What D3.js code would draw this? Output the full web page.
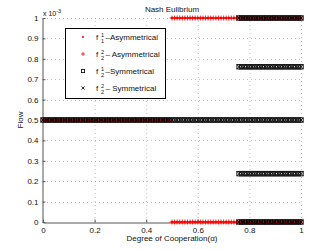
<!DOCTYPE html>
<html>
<head>
<meta charset="utf-8">
<script src="https://cdn.jsdelivr.net/npm/d3@7"></script>
<style>
  body { margin: 0; background: #fff; }
  svg { display: block; font-family: "Liberation Sans", Arial, sans-serif; }
</style>
</head>
<body>
<svg id="chart" width="332" height="250"></svg>
<script>
// alpha sampling grid used by the solver (x positions of the markers)
const alphaSteps = 100;
const alphaGrid = d3.range(alphaSteps + 1).map(i => i / alphaSteps);

// piecewise levels: [alphaFrom, alphaTo, flow (x1e-3)]
const asymF1 = [[0, 0.49, 0.5], [0.5, 1, 1], [0.5, 1, 0]];
const asymF2 = [[0, 0.49, 0.5], [0.5, 1, 0], [0.5, 1, 1]];
const symF1 = [[0, 1, 0.5], [0.76, 1, 1], [0.76, 1, 0], [0.76, 1, 0.761], [0.76, 1, 0.237]];
const symF2 = [[0, 1, 0.5], [0.76, 1, 0], [0.76, 1, 1], [0.76, 1, 0.237], [0.76, 1, 0.761]];

const xTicks = [0, 0.2, 0.4, 0.6, 0.8, 1];
const yTicks = [0, 0.1, 0.2, 0.3, 0.4, 0.5, 0.6, 0.7, 0.8, 0.9, 1];

const legendLabels = [
  { sup: "1", sub: "1", rest: "\u2013Asymmetrical", marker: "dot" },
  { sup: "2", sub: "2", rest: "\u2013 Asymmetrical", marker: "plus" },
  { sup: "1", sub: "2", rest: "\u2013Symmetrical", marker: "square" },
  { sup: "2", sub: "2", rest: "\u2013 Symmetrical", marker: "cross" }
];

const margin = { top: 18, right: 31, bottom: 28, left: 43 };
const width = 332, height = 250;

const svg = d3.select("#chart");

const x = d3.scaleLinear().domain([0, 1]).range([margin.left, width - margin.right]);
const y = d3.scaleLinear().domain([0, 1]).range([height - margin.bottom, margin.top]);

function expand(segs) {
  let pts = [];
  segs.forEach(s => {
    alphaGrid.forEach(a => {
      if (a >= s[0] - 1e-9 && a <= s[1] + 1e-9) pts.push([a, s[2]]);
    });
  });
  return pts;
}

// grid
const grid = svg.append("g").attr("stroke", "#bdbdbd").attr("stroke-width", 1)
  .attr("stroke-dasharray", "1,3");
xTicks.slice(1).forEach(t => {
  grid.append("line").attr("x1", x(t) + 0.5).attr("x2", x(t) + 0.5)
    .attr("y1", y(0)).attr("y2", y(1));
});
yTicks.slice(1).forEach(t => {
  grid.append("line").attr("x1", x(0)).attr("x2", x(1))
    .attr("y1", Math.round(y(t)) + 0.5).attr("y2", Math.round(y(t)) + 0.5);
});

// axes
const xAxis = d3.axisBottom(x).tickValues(xTicks).tickSizeInner(-3).tickSizeOuter(0)
  .tickPadding(5).tickFormat(d3.format("~g"));
const yAxis = d3.axisLeft(y).tickValues(yTicks).tickSizeInner(-3).tickSizeOuter(0)
  .tickPadding(4).tickFormat(d3.format("~g"));

const gx = svg.append("g").attr("transform", `translate(0,${y(0) + 0.5})`).call(xAxis);
const gy = svg.append("g").attr("transform", `translate(${x(0) - 0.5},0)`).call(yAxis);
[gx, gy].forEach(g => {
  g.selectAll("path,line").attr("stroke", "#555");
  g.selectAll("text").attr("font-size", 8).attr("fill", "#111")
    .attr("font-family", "Liberation Sans, Arial, sans-serif");
});

// markers
function drawMarkers(g, pts, type, color, s, sw) {
  s = s || 1;
  sw = sw || 0.8;
  pts.forEach(p => {
    const cx = x(p[0]), cy = y(p[1]);
    if (type === "dot") {
      g.append("circle").attr("cx", cx).attr("cy", cy).attr("r", 1.3 * s).attr("fill", color);
    } else if (type === "plus") {
      const r = 2.5 * s;
      g.append("path").attr("d", `M${cx - r},${cy}H${cx + r}M${cx},${cy - r}V${cy + r}`)
        .attr("stroke", color).attr("stroke-width", sw).attr("fill", "none");
    } else if (type === "square") {
      const r = 2 * s;
      g.append("rect").attr("x", cx - r).attr("y", cy - r).attr("width", 2 * r).attr("height", 2 * r)
        .attr("stroke", color).attr("stroke-width", sw).attr("fill", "none");
    } else if (type === "cross") {
      const r = 2 * s;
      g.append("path").attr("d", `M${cx - r},${cy - r}L${cx + r},${cy + r}M${cx - r},${cy + r}L${cx + r},${cy - r}`)
        .attr("stroke", color).attr("stroke-width", sw).attr("fill", "none");
    }
  });
}

const marks = svg.append("g");
drawMarkers(marks, expand(asymF1), "dot", "#ff0000");
drawMarkers(marks, expand(asymF2), "plus", "#ff0000");
const symG = marks.append("g").attr("opacity", 0.9);
drawMarkers(symG, expand(symF1), "square", "#000", 1.1, 1);
drawMarkers(symG, expand(symF2), "cross", "#000", 1.1, 1);

// title and labels
svg.append("text").attr("x", (x(0) + x(1)) / 2).attr("y", 12).attr("text-anchor", "middle")
  .attr("font-size", 8).attr("fill", "#111").text("Nash Eulibrium");

svg.append("text").attr("x", (x(0) + x(1)) / 2).attr("y", 241).attr("text-anchor", "middle")
  .attr("font-size", 8).attr("fill", "#111").text("Degree of Cooperation(\u03b1)");

svg.append("text").attr("transform", `translate(23,${(y(0) + y(1)) / 2}) rotate(-90)`)
  .attr("text-anchor", "middle").attr("font-size", 8).attr("fill", "#111").text("Flow");

const expo = svg.append("text").attr("x", 43).attr("y", 16).attr("font-size", 7).attr("fill", "#111");
expo.append("tspan").text("x 10");
expo.append("tspan").attr("dy", -3).attr("font-size", 5.5).text("-3");

// legend
const lg = svg.append("g");
lg.append("rect").attr("x", 65.5).attr("y", 28.5).attr("width", 100).attr("height", 70)
  .attr("fill", "#fff").attr("stroke", "#000").attr("stroke-width", 1);

const rowY = [37, 54, 71, 88];
legendLabels.forEach((d, i) => {
  const cy = rowY[i];
  const color = i < 2 ? "#ff0000" : "#000";
  const mg = lg.append("g");
  // legend sample drawn through the same marker routine (a single point)
  const px = x.invert(83), py = y.invert(cy);
  drawMarkers(mg, [[px, py]], d.marker, color, 0.8, 0.8);
  lg.append("text").attr("x", 96).attr("y", cy + 3).attr("font-size", 8).attr("fill", "#111").text("f");
  lg.append("text").attr("x", 101).attr("y", cy - 0.5).attr("font-size", 5.5).attr("fill", "#111").text(d.sup);
  lg.append("text").attr("x", 101).attr("y", cy + 5.5).attr("font-size", 5.5).attr("fill", "#111").text(d.sub);
  lg.append("text").attr("x", 105.5).attr("y", cy + 3).attr("font-size", 8).attr("fill", "#111").text(d.rest);
});
</script>
</body>
</html>
